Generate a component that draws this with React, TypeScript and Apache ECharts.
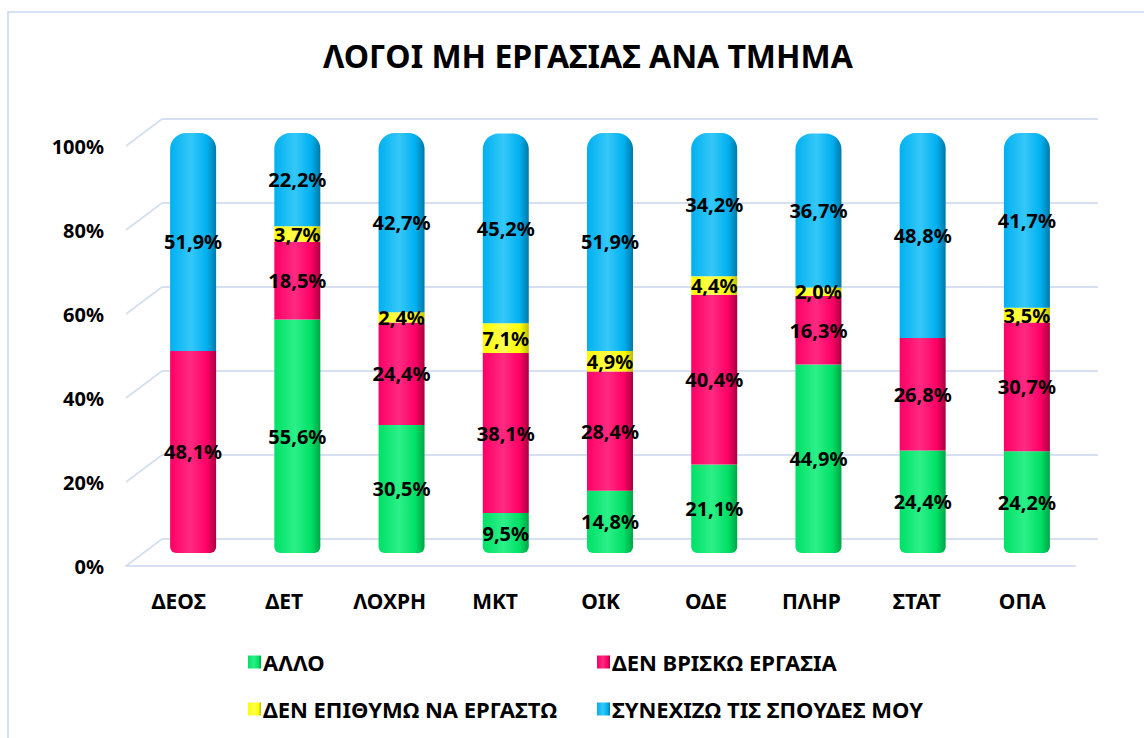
import React, { useEffect, useRef } from "react";
import * as echarts from "echarts";

const categories = ["ΔΕΟΣ", "ΔΕΤ", "ΛΟΧΡΗ", "ΜΚΤ", "ΟΙΚ", "ΟΔΕ", "ΠΛΗΡ", "ΣΤΑΤ", "ΟΠΑ"];
const seriesNames = ["ΑΛΛΟ", "ΔΕΝ ΒΡΙΣΚΩ ΕΡΓΑΣΙΑ", "ΔΕΝ ΕΠΙΘΥΜΩ ΝΑ ΕΡΓΑΣΤΩ", "ΣΥΝΕΧΙΖΩ ΤΙΣ ΣΠΟΥΔΕΣ ΜΟΥ"];
const allo = [0, 55.6, 30.5, 9.5, 14.8, 21.1, 44.9, 24.4, 24.2];
const denVrisko = [48.1, 18.5, 24.4, 38.1, 28.4, 40.4, 16.3, 26.8, 30.7];
const denEpithymo = [0, 3.7, 2.4, 7.1, 4.9, 4.4, 2.0, 0, 3.5];
const synexizo = [51.9, 22.2, 42.7, 45.2, 51.9, 34.2, 36.7, 48.8, 41.7];
const yTicks = [0, 20, 40, 60, 80, 100];

const seriesValues = [allo, denVrisko, denEpithymo, synexizo];
const baseColors = [
  ["#2cf088", "#00e066", "#00a546"],
  ["#ff2a80", "#ff0066", "#a8003f"],
  ["#ffff50", "#ffff00", "#bdbd00"],
  ["#35c8f8", "#00b0f0", "#0079a8"],
];

const FONT = "'Noto Sans', sans-serif";

function grad(c: string[]) {
  return new echarts.graphic.LinearGradient(0, 0, 1, 0, [
    { offset: 0, color: c[1] },
    { offset: 0.45, color: c[0] },
    { offset: 0.8, color: c[1] },
    { offset: 1, color: c[2] },
  ]);
}

export default function App() {
  const ref = useRef<HTMLDivElement>(null);
  useEffect(() => {
    if (!ref.current) return;
    const chart = echarts.init(ref.current, null, { renderer: "svg" });

    const series: any[] = seriesValues.map((vals, si) => ({
      name: seriesNames[si],
      type: "bar",
      stack: "total",
      xAxisIndex: 2,
      yAxisIndex: 2,
      barWidth: 46,
      itemStyle: { color: grad(baseColors[si]) },
      label: {
        show: true,
        position: "inside",
        color: "#000",
        fontFamily: FONT,
        fontWeight: "bold",
        fontSize: 20,
        formatter: (p: any) => (p.value > 0 ? p.value.toFixed(1).replace(".", ",") + "%" : ""),
      },
      data: vals.map((v, ci) => {
        let lowest = -1;
        let highest = -1;
        for (let k = 0; k < seriesValues.length; k++) {
          if (seriesValues[k][ci] > 0) {
            if (lowest < 0) lowest = k;
            highest = k;
          }
        }
        const r = [0, 0, 0, 0];
        if (si === highest) { r[0] = 16; r[1] = 16; }
        if (si === lowest) { r[2] = 6; r[3] = 6; }
        return { value: v, itemStyle: { borderRadius: r } };
      }),
    }));

    const legendPos = [
      { left: 243, top: 646 },
      { left: 592, top: 646 },
      { left: 243, top: 693 },
      { left: 592, top: 693 },
    ];

    const option: any = {
      animation: false,
      backgroundColor: "#fff",
      title: {
        text: "ΛΟΓΟΙ ΜΗ ΕΡΓΑΣΙΑΣ ΑΝΑ ΤΜΗΜΑ",
        left: 318,
        top: 34,
        textStyle: { fontFamily: FONT, fontWeight: "bold", fontSize: 32, color: "#000" },
      },
      legend: legendPos.map((p, i) => ({
        left: p.left,
        top: p.top,
        data: [seriesNames[i]],
        icon: "rect",
        itemWidth: 13,
        itemHeight: 13,
        itemGap: 4,
        textStyle: { fontFamily: FONT, fontWeight: "bold", fontSize: 22, color: "#000", padding: [0, 0, 0, -3] },
        selectedMode: false,
      })),
      grid: [
        { left: 126, top: 146, width: 949, height: 420 },
        { left: 162, top: 119, width: 936, height: 420 },
        { left: 141, top: 133, width: 938, height: 420 },
      ],
      xAxis: [
        {
          type: "category",
          gridIndex: 0,
          data: categories,
          axisLine: { show: true, lineStyle: { color: "#d6e0f0", width: 2 } },
          axisTick: { show: false },
          axisLabel: { margin: 24, fontFamily: FONT, fontWeight: "bold", fontSize: 21, color: "#000" },
        },
        { type: "category", gridIndex: 1, data: categories, show: false },
        { type: "category", gridIndex: 2, data: categories, show: false },
      ],
      yAxis: [
        {
          type: "value",
          gridIndex: 0,
          min: 0,
          max: 100,
          interval: 20,
          axisLine: { show: false },
          axisTick: { show: false },
          splitLine: { show: false },
          axisLabel: { margin: 22, fontFamily: FONT, fontWeight: "bold", fontSize: 20, color: "#000", formatter: "{value}%" },
        },
        {
          type: "value",
          gridIndex: 1,
          min: 0,
          max: 100,
          interval: 20,
          axisLine: { show: false },
          axisTick: { show: false },
          axisLabel: { show: false },
          splitLine: { show: true, lineStyle: { color: "#d6e0f0", width: 2 } },
        },
        { type: "value", gridIndex: 2, min: 0, max: 100, interval: 20, show: false, splitLine: { show: false } },
      ],
      graphic: [
        {
          type: "rect",
          shape: { x: 8, y: 12, width: 1150, height: 740 },
          style: { fill: "none", stroke: "#c9d8ee", lineWidth: 1.5 },
          silent: true,
        },
      ],
      series,
    };
    chart.setOption(option);

    const diag: any[] = yTicks.map((t) => {
      const front = chart.convertToPixel({ gridIndex: 0 } as any, [0, t]) as number[];
      const back = chart.convertToPixel({ gridIndex: 1 } as any, [0, t]) as number[];
      return {
        type: "line",
        z: -1,
        silent: true,
        shape: { x1: 126, y1: front[1], x2: 162, y2: back[1] },
        style: { stroke: "#d6e0f0", lineWidth: 2 },
      };
    });
    chart.setOption({ graphic: [option.graphic[0], ...diag] }, { replaceMerge: ["graphic"] });

    return () => chart.dispose();
  }, []);
  return <div ref={ref} style={{ width: 1144, height: 738, position: "absolute", left: 0, top: 0 }} />;
}
